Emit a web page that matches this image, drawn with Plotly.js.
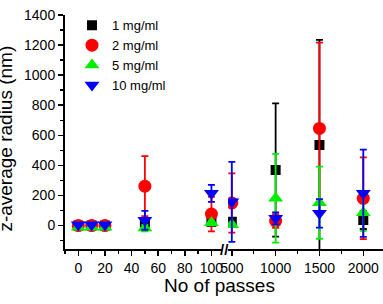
<!DOCTYPE html>
<html><head><meta charset="utf-8">
<script src="https://cdn.plot.ly/plotly-3.0.1.min.js"></script>
<style>html,body{margin:0;padding:0;background:#fff}#chart{width:383px;height:304px}</style>
</head><body><div id="chart"></div>
<script>
// Passes (left segment 0-100, right segment 500-2000, broken axis)
const passesLeft = [0, 10, 20, 50, 100];
const passesRight = [500, 1000, 1500, 2000];
const seriesNames = ['1 mg/ml', '2 mg/ml', '5 mg/ml', '10 mg/ml'];
// z-average radius (nm) values and errors
const v1 = [0, 0, 0, 20, 25, 25, 369, 535, 37];
const e1 = [5, 5, 5, 10, 10, 12, 443, 700, 60];
const v2 = [0, 0, 0, 262, 76, 150, 30, 646, 181];
const e2 = [5, 5, 5, 200, 115, 197, 45, 570, 272];
const v5 = [-12, -12, -12, -17, 19, 5, 181, 152, 85];
const e5 = [5, 5, 5, 22, 12, 12, 295, 240, 120];
const v10 = [5, 5, 5, 35, 214, 158, 48, 81, 215];
const e10 = [5, 5, 5, 63, 57, 266, 40, 95, 290];

const colors = ['#000000', '#ff0000', '#00ee00', '#0000ff'];
const symbols = ['square', 'circle', 'triangle-up', 'triangle-down'];
const sizes = [10, 13, 13, 13];
const vals = [v1, v2, v5, v10];
const errs = [e1, e2, e5, e10];

const nL = passesLeft.length;
const traces = [];
for (let s = 0; s < 4; s++) {
  const common = {
    mode: 'markers', type: 'scatter',
    marker: {symbol: symbols[s], color: colors[s], size: sizes[s], line: {width: 0}},
    name: seriesNames[s], legendgroup: 'g' + s
  };
  traces.push(Object.assign({}, common, {
    x: passesLeft, y: vals[s].slice(0, nL),
    error_y: {type: 'data', array: errs[s].slice(0, nL), visible: true, color: colors[s], thickness: 1.8, width: 3.5},
    xaxis: 'x', yaxis: 'y', showlegend: true
  }));
  traces.push(Object.assign({}, common, {
    x: passesRight, y: vals[s].slice(nL),
    error_y: {type: 'data', array: errs[s].slice(nL), visible: true, color: colors[s], thickness: 1.8, width: 3.5},
    xaxis: 'x2', yaxis: 'y', showlegend: false
  }));
}

const FAM = 'Liberation Sans, Arial, sans-serif';
const tickFont = {family: FAM, size: 14, color: '#000'};
const layout = {
  width: 383, height: 304,
  margin: {l: 65, r: 0, t: 15, b: 55},
  paper_bgcolor: '#fff', plot_bgcolor: '#fff',
  showlegend: true,
  legend: {x: 0.022, y: 1.02, xanchor: 'left', yanchor: 'top', bgcolor: 'rgba(0,0,0,0)',
    font: {family: FAM, size: 13, color: '#000'},
    tracegroupgap: 0, itemwidth: 30},
  xaxis: {domain: [0, 0.494], range: [-10, 108], tickvals: [0, 20, 40, 60, 80, 100],
    ticks: 'outside', ticklen: 5, tickwidth: 1.5, tickcolor: '#000',
    minor: {dtick: 10, tick0: 0, ticks: 'outside', ticklen: 3, tickwidth: 1.5, tickcolor: '#000'},
    showline: true, linecolor: '#000', linewidth: 2, showgrid: false, zeroline: false,
    tickfont: tickFont, anchor: 'y'},
  xaxis2: {domain: [0.513, 1], range: [458, 2225], tickvals: [500, 1000, 1500, 2000],
    ticks: 'outside', ticklen: 5, tickwidth: 1.5, tickcolor: '#000',
    minor: {tickvals: [750, 1250, 1750], ticks: 'outside', ticklen: 3, tickwidth: 1.5, tickcolor: '#000'},
    showline: true, linecolor: '#000', linewidth: 2, showgrid: false, zeroline: false,
    tickfont: tickFont, anchor: 'y'},
  yaxis: {range: [-156, 1400], tickvals: [0, 200, 400, 600, 800, 1000, 1200, 1400],
    ticks: 'outside', ticklen: 5, tickwidth: 1.5, tickcolor: '#000',
    minor: {dtick: 100, tick0: 0, ticks: 'outside', ticklen: 3, tickwidth: 1.5, tickcolor: '#000'},
    showline: true, linecolor: '#000', linewidth: 2, showgrid: false, zeroline: false,
    tickfont: tickFont},
  annotations: [
    {text: 'No of passes', xref: 'paper', yref: 'paper', x: 0.485, y: -0.158, xanchor: 'center', yanchor: 'middle',
      showarrow: false, font: {family: FAM, size: 19, color: '#000'}},
    {text: 'z-average radius (nm)', xref: 'paper', yref: 'paper', x: -0.19, y: 0.47, xanchor: 'center', yanchor: 'middle',
      textangle: -90, showarrow: false, font: {family: FAM, size: 19, color: '#000'}},
    {text: '<b>//</b>', xref: 'paper', yref: 'paper', x: 0.503, y: 0, xanchor: 'center', yanchor: 'middle',
      showarrow: false, font: {family: FAM, size: 15, color: '#000'}}
  ]
};
Plotly.newPlot('chart', traces, layout, {displayModeBar: false, staticPlot: true});
</script></body></html>
